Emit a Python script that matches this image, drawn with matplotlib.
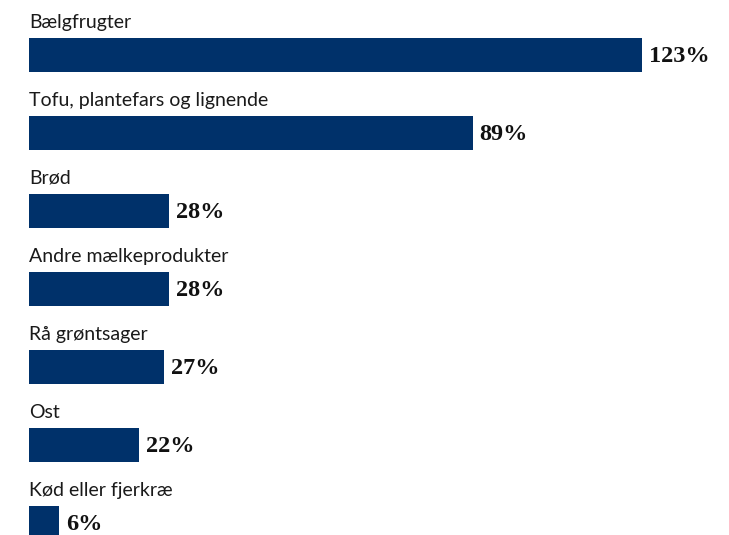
import numpy as np
import matplotlib.pyplot as plt

categories = [
    "Bælgfrugter",
    "Tofu, plantefars og lignende",
    "Brød",
    "Andre mælkeprodukter",
    "Rå grøntsager",
    "Ost",
    "Kød eller fjerkræ",
]
values = [123, 89, 28, 28, 27, 22, 6]

BAR_COLOR = "#00316a"

fig = plt.figure(figsize=(7.29, 5.35), dpi=100)
ax = fig.add_axes([0, 0, 1, 1])

px_per_pct = 4.985
row_px = 78.0
ax.set_xlim(-29 / px_per_pct, (729 - 29) / px_per_pct)
ax.set_ylim((535 - 55) / row_px, -55 / row_px)
ax.axis("off")

y = np.arange(len(categories))
bar_h = 34 / row_px
ax.barh(y, values, height=bar_h, color=BAR_COLOR, left=0)

for i, (cat, val) in enumerate(zip(categories, values)):
    ax.text(0, i - bar_h / 2 - 10 / row_px, cat, ha="left", va="baseline",
            fontsize=14, family="Lato", color="#1a1a1a")
    ax.text(val + 7 / px_per_pct, i + 2 / row_px, f"{val}%", ha="left",
            va="center", fontsize=17.5, fontweight="bold",
            family="Liberation Serif", color="#111111")

fig.savefig("out.png", dpi=100)
